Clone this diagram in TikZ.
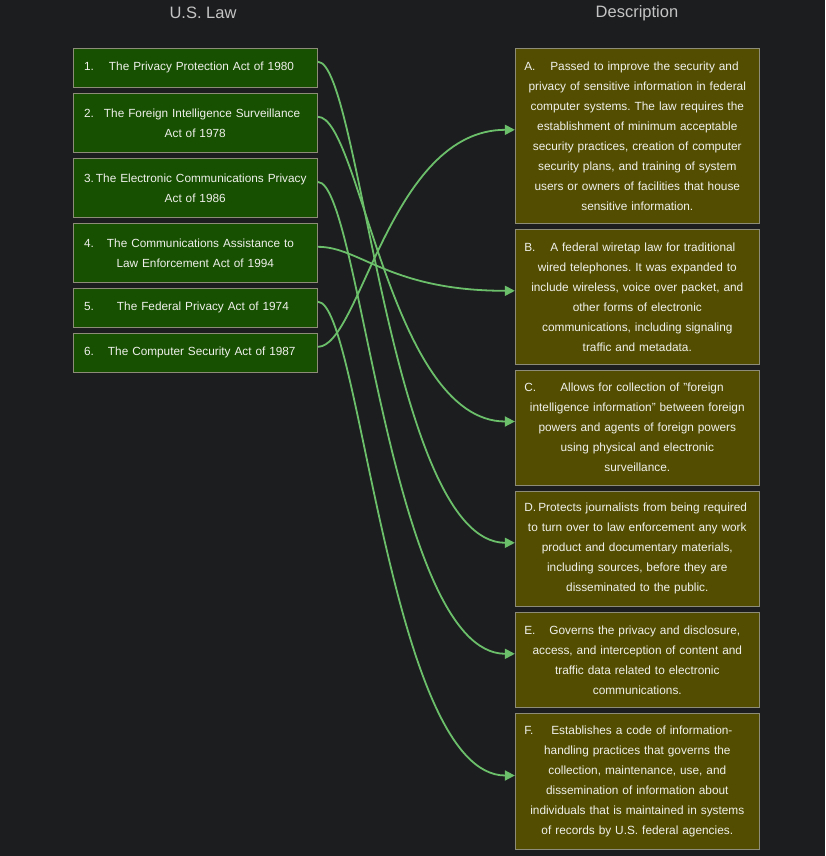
\documentclass[tikz,border=0pt]{standalone}
\usepackage{fontspec}
\setmainfont{Liberation Sans}
\usetikzlibrary{arrows.meta}
\frenchspacing
\definecolor{bg}{HTML}{1C1D1F}
\definecolor{lawfill}{HTML}{165000}
\definecolor{descfill}{HTML}{524D00}
\definecolor{boxline}{HTML}{8C8C78}
\definecolor{txt}{HTML}{F0F0EC}
\definecolor{headc}{HTML}{C4C4C4}
\definecolor{linkc}{HTML}{6CBF6A}
\newcommand{\leadline}[3]{\makebox[\linewidth][l]{\makebox[#1pt][l]{#2}#3}}
\tikzset{
  lawbox/.style={draw=boxline, line width=0.9pt, fill=lawfill, text=txt, inner sep=0pt,
    minimum width=244.5pt, text width=222.5pt, align=center,
    font=\fontsize{11.8}{20}\selectfont},
  descbox/.style={draw=boxline, line width=0.9pt, fill=descfill, text=txt, inner sep=0pt,
    minimum width=244pt, text width=226pt, align=center,
    font=\fontsize{11.85}{20}\selectfont},
  headtext/.style={text=headc, font=\fontsize{16.5}{18}\selectfont, inner sep=0pt},
  linkarrow/.style={draw=linkc, line width=1.8pt, -{Triangle[length=10pt,width=10pt]}}
}
\begin{document}
\begin{tikzpicture}[x=1pt,y=-1pt]
\path[use as bounding box, fill=bg] (0,0) rectangle (825,856);

\node[headtext] (hl) at (203,13) {U.S. Law};
\node[headtext] (hd) at (637,13) {Description};

\node[lawbox, minimum height=39pt] (l1) at (195.25,67.8) {\leadline{25}{1.}{The Privacy Protection Act of 1980}};
\node[lawbox, minimum height=59pt] (l2) at (195.25,122.8) {\leadline{20}{2.}{The Foreign Intelligence Surveillance}\\Act of 1978};
\node[lawbox, minimum height=59pt] (l3) at (195.25,188) {\leadline{12}{3.}{The Electronic Communications Privacy}\\Act of 1986};
\node[lawbox, minimum height=59pt] (l4) at (195.25,252.8) {\leadline{23}{4.}{The Communications Assistance to}\\Law Enforcement Act of 1994};
\node[lawbox, minimum height=39pt] (l5) at (195.25,307.8) {\leadline{33}{5.}{The Federal Privacy Act of 1974}};
\node[lawbox, minimum height=39pt] (l6) at (195.25,352.8) {\leadline{24}{6.}{The Computer Security Act of 1987}};

\node[descbox, minimum height=175pt] (a) at (637.3,135.8) {\leadline{26}{A.}{Passed to improve the security and}\\privacy of sensitive information in federal\\computer systems. The law requires the\\establishment of minimum acceptable\\security practices, creation of computer\\security plans, and training of system\\users or owners of facilities that house\\sensitive information.};
\node[descbox, minimum height=135pt] (b) at (637.3,296.8) {\leadline{26}{B.}{A federal wiretap law for traditional}\\wired telephones. It was expanded to\\include wireless, voice over packet, and\\other forms of electronic\\communications, including signaling\\traffic and metadata.};
\node[descbox, minimum height=115pt] (c) at (637.3,427.5) {\leadline{36}{C.}{Allows for collection of "foreign}\\intelligence information" between foreign\\powers and agents of foreign powers\\using physical and electronic\\surveillance.};
\node[descbox, minimum height=115pt] (d) at (637.3,548.8) {\leadline{14}{D.}{Protects journalists from being required}\\to turn over to law enforcement any work\\product and documentary materials,\\including sources, before they are\\disseminated to the public.};
\node[descbox, minimum height=95pt] (e) at (637.3,659.8) {\leadline{25}{E.}{Governs the privacy and disclosure,}\\access, and interception of content and\\traffic data related to electronic\\communications.};
\node[descbox, minimum height=136pt] (f) at (637.3,781.5) {\leadline{27}{F.}{Establishes a code of information-}\\handling practices that governs the\\collection, maintenance, use, and\\dissemination of information about\\individuals that is maintained in systems\\of records by U.S. federal agencies.};

\draw[linkarrow] ([yshift=6pt]l1.east) .. controls +(42,0) and +(-125,0) .. ([yshift=6pt]d.west);
\draw[linkarrow] ([yshift=6pt]l2.east) .. controls +(42,0) and +(-125,0) .. ([yshift=6pt]c.west);
\draw[linkarrow] ([yshift=6pt]l3.east) .. controls +(42,0) and +(-125,0) .. ([yshift=6pt]e.west);
\draw[linkarrow] ([yshift=6pt]l4.east) .. controls +(42,0) and +(-125,0) .. ([yshift=6pt]b.west);
\draw[linkarrow] ([yshift=6pt]l5.east) .. controls +(42,0) and +(-125,0) .. ([yshift=6pt]f.west);
\draw[linkarrow] ([yshift=6pt]l6.east) .. controls +(42,0) and +(-125,0) .. ([yshift=6pt]a.west);
\end{tikzpicture}
\end{document}
